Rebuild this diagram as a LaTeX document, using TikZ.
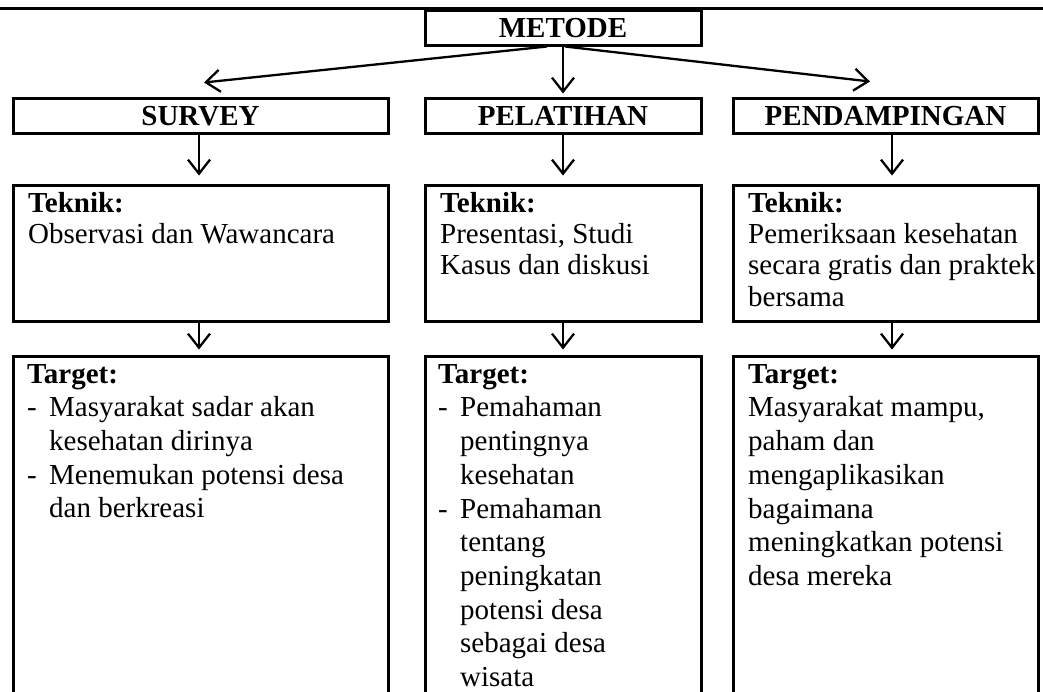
\documentclass[tikz,border=0pt]{standalone}
\usepackage{fontspec}
\setmainfont{Liberation Serif}
\usetikzlibrary{arrows.meta}
\newcommand{\tgtdash}{\makebox[22pt][l]{-}}
\newcommand{\tgtind}{\hspace*{22pt}}
\begin{document}
\begin{tikzpicture}[x=1pt,y=-1pt,
  box/.style={draw, line width=3pt, rectangle, inner sep=0pt},
  head/.style={box, font=\fontsize{29}{33}\selectfont\bfseries, minimum height=35pt, text height=19pt, text depth=0pt},
  txt/.style={anchor=north west, inner sep=0pt, align=left},
  tek/.style={txt, font=\fontsize{29}{31.3}\selectfont},
  tgt/.style={txt, font=\fontsize{29}{33.7}\selectfont},
  arr/.style={line width=2.3pt, -{Straight Barb[length=14pt,width=22pt]}}]
\useasboundingbox (0,0) rectangle (1043,691);
\clip (0,0) rectangle (1043,691);
\draw[line width=3pt] (0,8) -- (1043,8);
% heading boxes
\node[head, minimum width=276pt] (metode) at (563,27.5) {METODE};
\node[head, minimum width=375pt] (survey) at (200.5,115.5) {SURVEY};
\node[head, minimum width=276pt] (pelatihan) at (563,115.5) {PELATIHAN};
\node[head, minimum width=305pt] (pendamping) at (885.5,115.5) {PENDAMPINGAN};
% teknik boxes
\node[box, minimum width=375pt, minimum height=136pt] (tekA) at (200.5,253) {};
\node[box, minimum width=276pt, minimum height=136pt] (tekB) at (563,253) {};
\node[box, minimum width=305pt, minimum height=136pt] (tekC) at (885.5,253) {};
\node[tek] (tekAtxt) at (28,190) {\strut\textbf{Teknik:}\\Observasi dan Wawancara};
\node[tek] (tekBtxt) at (440,190) {\strut\textbf{Teknik:}\\Presentasi, Studi\\Kasus dan diskusi};
\node[tek] (tekCtxt) at (748,190) {\strut\textbf{Teknik:}\\Pemeriksaan kesehatan\\secara gratis dan praktek\\bersama};
% target boxes
\node[box, minimum width=375pt, minimum height=364pt] (tgtA) at (200.5,538) {};
\node[box, minimum width=276pt, minimum height=364pt] (tgtB) at (563,538) {};
\node[box, minimum width=305pt, minimum height=364pt] (tgtC) at (885.5,538) {};
\node[tgt] (tgtAtxt) at (27,359.4) {\strut\textbf{Target:}\\\tgtdash Masyarakat sadar akan\\\tgtind kesehatan dirinya\\\tgtdash Menemukan potensi desa\\\tgtind dan berkreasi};
\node[tgt] (tgtBtxt) at (438,359.4) {\strut\textbf{Target:}\\\tgtdash Pemahaman\\\tgtind pentingnya\\\tgtind kesehatan\\\tgtdash Pemahaman\\\tgtind tentang\\\tgtind peningkatan\\\tgtind potensi desa\\\tgtind sebagai desa\\\tgtind wisata};
\node[tgt] (tgtCtxt) at (748,359.4) {\strut\textbf{Target:}\\Masyarakat mampu,\\paham dan\\mengaplikasikan\\bagaimana\\meningkatkan potensi\\desa mereka};
% arrows from METODE
\draw[arr] ([xshift=-16pt]metode.south) -- ([xshift=3.5pt,yshift=14pt]survey.north);
\draw[arr] (metode.south) -- ([yshift=3pt]pelatihan.north);
\draw[arr] ([xshift=2pt]metode.south) -- ([xshift=-15.5pt,yshift=15pt]pendamping.north);
% heading -> teknik
\draw[arr] ([xshift=-1.5pt]survey.south) -- ([xshift=-1.5pt,yshift=8pt]tekA.north);
\draw[arr] (pelatihan.south) -- ([yshift=8pt]tekB.north);
\draw[arr] ([xshift=6.5pt]pendamping.south) -- ([xshift=6.5pt,yshift=8pt]tekC.north);
% teknik -> target
\draw[arr] ([xshift=-1.5pt]tekA.south) -- ([xshift=-1.5pt,yshift=5pt]tgtA.north);
\draw[arr] (tekB.south) -- ([yshift=5pt]tgtB.north);
\draw[arr] ([xshift=6.5pt]tekC.south) -- ([xshift=6.5pt,yshift=5pt]tgtC.north);
\end{tikzpicture}
\end{document}
